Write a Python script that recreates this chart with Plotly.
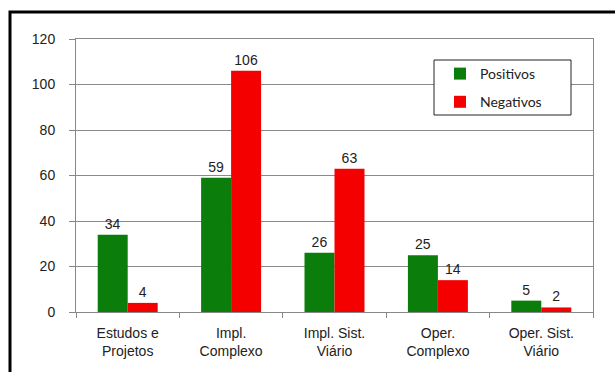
import plotly.graph_objects as go

categories = ["Estudos e<br>Projetos", "Impl.<br>Complexo", "Impl. Sist.<br>Viário", "Oper.<br>Complexo", "Oper. Sist.<br>Viário"]
positivos = [34, 59, 26, 25, 5]
negativos = [4, 106, 63, 14, 2]
y_ticks = [0, 20, 40, 60, 80, 100, 120]

GREEN = "#0b7d0b"
RED = "#f50000"
FONT = "Liberation Sans, Arial, sans-serif"

fig = go.Figure()
fig.add_trace(go.Bar(
    x=categories, y=positivos, name="Positivos", legendgroup="p",
    marker=dict(color=GREEN, line=dict(width=0)),
    text=[str(v) for v in positivos], textposition="outside", cliponaxis=False,
    textfont=dict(family=FONT, size=14, color="#222"),
))
fig.add_trace(go.Bar(
    x=categories, y=negativos, name="Negativos", legendgroup="n",
    marker=dict(color=RED, line=dict(width=0)),
    text=[str(v) for v in negativos], textposition="outside", cliponaxis=False,
    textfont=dict(family=FONT, size=14, color="#222"),
))

L, R, T, B = 76, 22, 39, 60
W, H = 615, 372
pw = W - L - R
ph = H - T - B

def px_x(p):
    return (p - L) / pw

def px_y(p):
    return (H - B - p) / ph

fig.update_layout(
    width=W, height=H,
    margin=dict(l=L, r=R, t=T, b=B, pad=0),
    paper_bgcolor="white", plot_bgcolor="white",
    barmode="group", bargap=0.42, bargroupgap=0,
    font=dict(family=FONT, size=14, color="#222"),
    showlegend=True,
    legend=dict(
        x=px_x(440), y=px_y(58), xanchor="left", yanchor="top",
        bgcolor="rgba(0,0,0,0)", borderwidth=0,
        font=dict(family="Lato, Carlito, sans-serif", size=14, color="#222"),
        traceorder="grouped", tracegroupgap=7, itemwidth=30,
    ),
    xaxis=dict(
        showline=True, linecolor="#888", linewidth=1, mirror=True,
        ticks="outside", tickson="boundaries", ticklen=5, tickcolor="#888",
        ticklabelstandoff=8,
        tickfont=dict(family=FONT, size=14, color="#222"),
        showgrid=False,
    ),
    yaxis=dict(
        range=[0, 120], tickvals=y_ticks, ticktext=[str(v) for v in y_ticks],
        showline=True, linecolor="#888", linewidth=1, mirror=True,
        ticks="outside", ticklen=6, tickcolor="#888",
        ticklabelstandoff=11,
        showgrid=True, gridcolor="#8a8a8a", gridwidth=1,
        zeroline=False,
        tickfont=dict(family=FONT, size=14, color="#222"),
    ),
    shapes=[
        # outer chart frame
        dict(type="rect", xref="paper", yref="paper",
             x0=px_x(10), x1=px_x(640), y0=px_y(400), y1=px_y(12),
             line=dict(color="black", width=3), fillcolor="rgba(0,0,0,0)", layer="above"),
        # legend box
        dict(type="rect", xref="paper", yref="paper",
             x0=px_x(434), x1=px_x(571), y0=px_y(115), y1=px_y(60),
             line=dict(color="#222", width=1), fillcolor="white", layer="above"),
    ],
)

fig.write_html(
    "out.html",
    config={"displayModeBar": False},
    post_script="document.body.style.margin='0';document.body.style.overflow='hidden';",
)
